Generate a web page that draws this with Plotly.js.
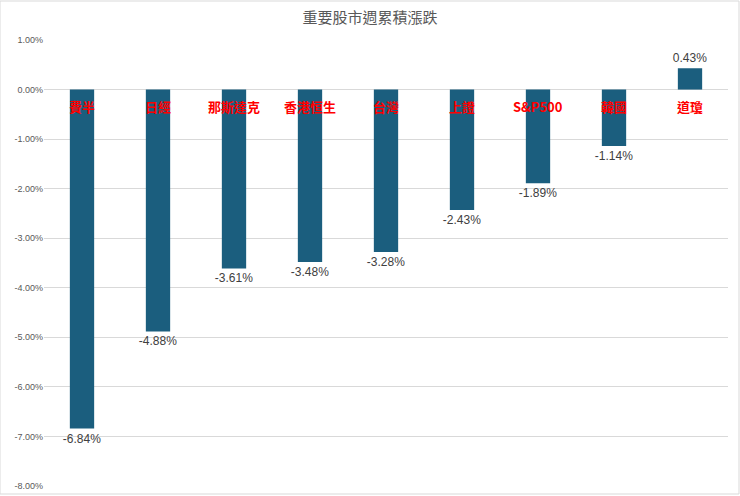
<!DOCTYPE html>
<html>
<head>
<meta charset="utf-8">
<script src="https://cdn.plot.ly/plotly-3.0.1.min.js"></script>
<style>
  html, body { margin: 0; padding: 0; background: #fff; }
  #chart { width: 740px; height: 496px; }
</style>
</head>
<body>
<div id="chart"></div>
<script>
// weekly cumulative change, in percent
const markets = ['費半', '日經', '那斯達克', '香港恒生', '台灣', '上證', 'S&P500', '韓國', '道瓊'];
const changes = [-6.84, -4.88, -3.61, -3.48, -3.28, -2.43, -1.89, -1.14, 0.43];
const yTicks = [1, 0, -1, -2, -3, -4, -5, -6, -7, -8];

const cjk = "'Noto Sans CJK TC', 'Noto Sans', sans-serif";

const trace = {
    x: markets,
    y: changes,
    type: 'bar',
    marker: { color: '#1b5e7e' },
    text: changes.map((v) => v.toFixed(2) + '%'),
    textposition: 'outside',
    constraintext: 'none',
    cliponaxis: false,
    textfont: { family: 'Liberation Sans, Arial, sans-serif', size: 12, color: '#404040' },
    hoverinfo: 'skip',
};

// red market names sit just under the zero line
const nameLabels = markets.map((m) => ({
    x: m,
    y: 0,
    xref: 'x',
    yref: 'y',
    text: '<b>' + m + '</b>',
    showarrow: false,
    yanchor: 'top',
    yshift: -5,
    font: { family: cjk, size: 13, color: '#ff0000' },
}));

const layout = {
    width: 740,
    height: 496,
    margin: { l: 44, r: 12, t: 40, b: 10 },
    paper_bgcolor: '#ffffff',
    plot_bgcolor: '#ffffff',
    title: {
        text: '重要股市週累積漲跌',
        x: 0.5,
        xanchor: 'center',
        y: 0.964,
        yanchor: 'middle',
        font: { family: cjk, size: 15, color: '#595959' },
    },
    bargap: 0.68,
    showlegend: false,
    xaxis: {
        showticklabels: false,
        showgrid: false,
        zeroline: false,
        showline: false,
        ticks: '',
    },
    yaxis: {
        range: [-8, 1],
        tickvals: yTicks,
        ticktext: yTicks.map((v) => v.toFixed(2) + '%'),
        gridcolor: '#d9d9d9',
        gridwidth: 1,
        zeroline: false,
        showline: false,
        ticks: '',
        ticklen: 0,
        tickfont: { family: 'Liberation Sans, Arial, sans-serif', size: 9, color: '#595959' },
    },
    annotations: nameLabels,
    shapes: [{
        type: 'rect',
        xref: 'paper',
        yref: 'paper',
        x0: -44 / 684,
        x1: 1 + 11 / 684,
        y0: -8 / 446,
        y1: 1 + 39 / 446,
        line: { color: '#d9d9d9', width: 1 },
        layer: 'below',
    }],
};

Plotly.newPlot('chart', [trace], layout, { displayModeBar: false, staticPlot: true });
</script>
</body>
</html>
